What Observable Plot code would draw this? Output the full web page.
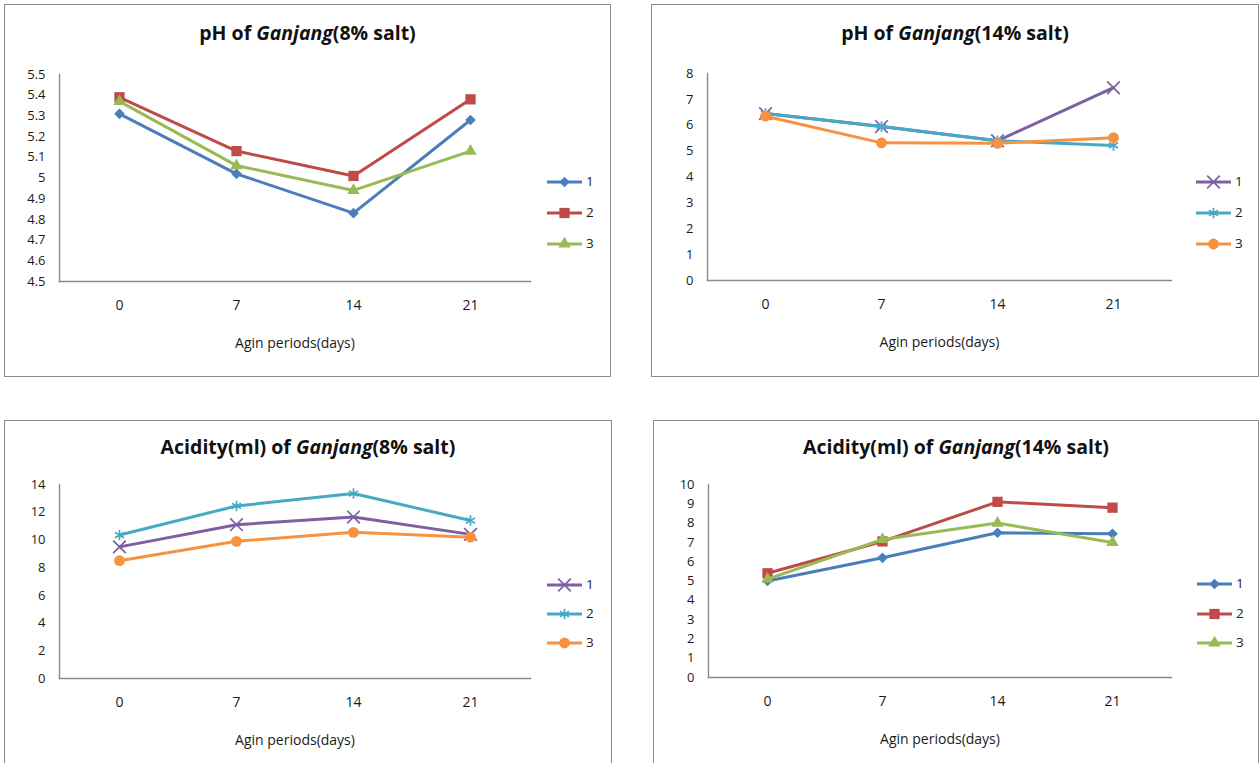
<!DOCTYPE html>
<html><head><meta charset="utf-8">
<script src="https://cdn.jsdelivr.net/npm/d3@7"></script>
<script src="https://cdn.jsdelivr.net/npm/@observablehq/plot@0.6"></script>
<style>
body{margin:0;background:#fff;font-family:"Open Sans",Lato,sans-serif;}
#root{position:relative;width:1260px;height:763px;overflow:hidden;background:#fff;}
.panel{position:absolute;box-sizing:border-box;border:1px solid #8c8c8c;background:#fff;}
.panel svg{position:absolute;left:0;top:0;}
.title{position:absolute;left:0;right:0;text-align:center;font-weight:bold;font-size:19.5px;line-height:24px;color:#111;white-space:nowrap;}
.leg{position:absolute;font-size:13.5px;color:#222;}
.leg svg{position:absolute;left:0;top:0;overflow:visible;}
.leg span{position:absolute;left:39px;top:-10px;line-height:19px;}
</style></head><body><div id="root"></div>
<script>
// ---- data ----
const days = [0, 7, 14, 21];
const seriesNames = ["1", "2", "3"];

// pH, 8% salt
const ph8_1 = [5.31, 5.02, 4.83, 5.28];
const ph8_2 = [5.39, 5.13, 5.01, 5.38];
const ph8_3 = [5.37, 5.06, 4.94, 5.13];
const ph8Ticks = [4.5, 4.6, 4.7, 4.8, 4.9, 5, 5.1, 5.2, 5.3, 5.4, 5.5];

// pH, 14% salt
const ph14_1 = [6.45, 5.95, 5.40, 7.45];
const ph14_2 = [6.45, 5.95, 5.40, 5.22];
const ph14_3 = [6.35, 5.32, 5.30, 5.52];
const ph14Ticks = [0, 1, 2, 3, 4, 5, 6, 7, 8];

// Acidity, 8% salt
const ac8_1 = [9.5, 11.1, 11.65, 10.4];
const ac8_2 = [10.35, 12.45, 13.35, 11.4];
const ac8_3 = [8.5, 9.9, 10.55, 10.2];
const ac8Ticks = [0, 2, 4, 6, 8, 10, 12, 14];

// Acidity, 14% salt
const ac14_1 = [5.0, 6.2, 7.5, 7.45];
const ac14_2 = [5.4, 7.05, 9.1, 8.8];
const ac14_3 = [5.1, 7.15, 8.0, 7.0];
const ac14Ticks = [0, 1, 2, 3, 4, 5, 6, 7, 8, 9, 10];

const xLabel = "Agin periods(days)";

// ---- styles ----
const styleA = [ // blue diamond, red square, green triangle
  {color: "#4a7ebb", symbol: "diamond2", r: 4.8, fill: true},
  {color: "#be4b48", symbol: "square", r: 5.8, fill: true},
  {color: "#98b954", symbol: "triangle", r: 4.6, fill: true}
];
const styleB = [ // purple x, teal asterisk, orange circle
  {color: "#7d60a0", symbol: "times", r: 5.8, fill: false},
  {color: "#46aac5", symbol: "asterisk", r: 5, fill: false},
  {color: "#f69240", symbol: "circle", r: 5.4, fill: true}
];

const panels = [
  {box: [4, 4, 607, 373], title: ["pH of ", "Ganjang", "(8% salt)"], titleTop: 16,
   series: [ph8_1, ph8_2, ph8_3], ticks: ph8Ticks, styles: styleA,
   m: [69, 80, 95, 54], legX: 547, legY: [182, 213, 244]},
  {box: [651, 4, 608, 373], title: ["pH of ", "Ganjang", "(14% salt)"], titleTop: 16,
   series: [ph14_1, ph14_2, ph14_3], ticks: ph14Ticks, styles: styleB,
   m: [68, 87, 96, 55], legX: 1196, legY: [182, 213, 244]},
  {box: [4, 420, 608, 346], title: ["Acidity(ml) of ", "Ganjang", "(8% salt)"], titleTop: 14,
   series: [ac8_1, ac8_2, ac8_3], ticks: ac8Ticks, styles: styleB,
   m: [63, 81, 87, 54], legX: 547, legY: [585, 614, 643]},
  {box: [653, 420, 606, 346], title: ["Acidity(ml) of ", "Ganjang", "(14% salt)"], titleTop: 14,
   series: [ac14_1, ac14_2, ac14_3], ticks: ac14Ticks, styles: styleA,
   m: [63, 87, 88, 54], legX: 1197, legY: [584, 614, 643]}
];

const fmt = d => String(+d.toFixed(2));
const symMap = {diamond2: d3.symbolDiamond2, square: d3.symbolSquare, triangle: d3.symbolTriangle,
  times: d3.symbolTimes, asterisk: d3.symbolAsterisk, circle: d3.symbolCircle};

const root = document.getElementById("root");

for (const p of panels) {
  const [left, top, w, h] = p.box;
  const div = document.createElement("div");
  div.className = "panel";
  Object.assign(div.style, {left: left + "px", top: top + "px", width: w + "px", height: h + "px"});
  const W = w - 2, H = h - 2;
  const marks = [
    Plot.axisX({tickSize: 0, tickPadding: 19, label: xLabel, labelAnchor: "center", labelOffset: 66, fontSize: 14}),
    Plot.axisY({ticks: p.ticks, tickSize: 0, tickPadding: 14, tickFormat: fmt, label: null, fontSize: 13}),
    Plot.frame({anchor: "bottom", stroke: "#8a8a8a", strokeWidth: 1.4}),
    Plot.frame({anchor: "left", stroke: "#8a8a8a", strokeWidth: 1.4})
  ];
  p.series.forEach((vals, i) => {
    const st = p.styles[i];
    const rows = days.map((d, j) => ({day: d, value: vals[j], series: seriesNames[i]}));
    marks.push(Plot.line(rows, {x: "day", y: "value", stroke: st.color, strokeWidth: 3, strokeLinejoin: "round"}));
    marks.push(Plot.dot(rows, st.fill
      ? {x: "day", y: "value", symbol: () => st.symbol, r: st.r, fill: st.color, stroke: "none"}
      : {x: "day", y: "value", symbol: () => st.symbol, r: st.r, stroke: st.color, strokeWidth: 1.7, fill: "none"}));
  });
  const chart = Plot.plot({
    width: W, height: H,
    marginTop: p.m[0], marginRight: p.m[1], marginBottom: p.m[2], marginLeft: p.m[3],
    style: {fontFamily: "'Open Sans', Lato, sans-serif", fontSize: "13px", color: "#1a1a1a", background: "transparent"},
    x: {type: "point", domain: days, padding: 0.5},
    y: {domain: [p.ticks[0], p.ticks[p.ticks.length - 1]]},
    symbol: {type: "identity"},
    marks
  });
  div.appendChild(chart);
  const t = document.createElement("div");
  t.className = "title";
  t.style.top = p.titleTop + "px";
  t.innerHTML = `${p.title[0]}<i>${p.title[1]}</i>${p.title[2]}`;
  div.appendChild(t);
  root.appendChild(div);

  // legend
  p.styles.forEach((st, i) => {
    const lg = document.createElement("div");
    lg.className = "leg";
    lg.style.left = p.legX + "px";
    lg.style.top = p.legY[i] + "px";
    const svg = d3.create("svg").attr("width", 36).attr("height", 1);
    svg.append("line").attr("x1", 0).attr("x2", 35).attr("y1", 0).attr("y2", 0)
      .attr("stroke", st.color).attr("stroke-width", 3);
    const path = d3.symbol(symMap[st.symbol], Math.PI * st.r * st.r)();
    const s = svg.append("path").attr("d", path).attr("transform", "translate(17.5,0)");
    if (st.fill) s.attr("fill", st.color); else s.attr("fill", "none").attr("stroke", st.color).attr("stroke-width", 1.7);
    lg.appendChild(svg.node());
    const sp = document.createElement("span");
    sp.textContent = seriesNames[i];
    lg.appendChild(sp);
    root.appendChild(lg);
  });
}
</script>
</body></html>
